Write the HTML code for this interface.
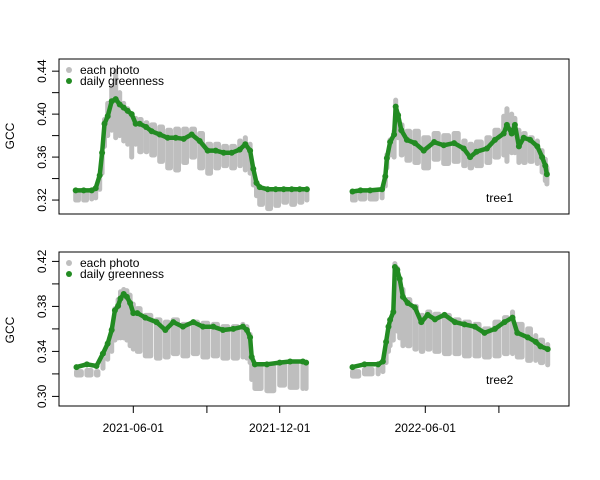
<!DOCTYPE html>
<html><head><meta charset="utf-8"><style>
body{margin:0;background:#fff}
svg{display:block;font-family:"Liberation Sans",sans-serif}
</style></head><body>
<svg id="c" width="600" height="480"></svg>
<script>
const tickDates=["2021-06-01","2021-12-01","2022-06-01"];
const tickDays=[92,275,457];
const minorDays=[184,549];
// tree1 (days since 2021-03-01)
const t1Days=[20,30,40,45,50,53,56,60,65,70,75,80,85,90,95,100,108,115,125,135,145,155,165,175,185,195,205,215,225,232,238,242,246,250,260,270,280,290,300,309,
366,376,388,403,407,409,413,418,420,423,427,434,444,455,468,480,493,505,513,521,534,544,555,559,565,569,574,580,588,597,603,607,609];
const t1Green=[.329,.329,.329,.331,.343,.364,.391,.398,.412,.414,.409,.406,.403,.400,.391,.391,.388,.384,.381,.378,.378,.377,.381,.375,.366,.366,.364,.364,.367,.372,.366,.349,.336,.332,.330,.330,.330,.330,.330,.330,
.328,.329,.329,.330,.342,.359,.374,.381,.407,.399,.385,.376,.373,.366,.374,.371,.373,.368,.360,.365,.368,.376,.382,.390,.382,.390,.370,.378,.376,.370,.360,.352,.344];
const t1GrayHi=[.327,.327,.327,.328,.340,.362,.395,.410,.425,.440,.420,.410,.405,.400,.396,.395,.392,.390,.388,.385,.386,.386,.386,.382,.372,.372,.370,.370,.375,.378,.372,.346,.334,.330,.328,.328,.330,.330,.330,.330,
.326,.327,.328,.328,.340,.362,.376,.384,.413,.400,.390,.384,.384,.378,.382,.380,.382,.375,.372,.374,.378,.385,.398,.405,.400,.396,.385,.382,.378,.375,.366,.358,.350];
const t1GrayLo=[.320,.320,.321,.322,.330,.345,.370,.380,.385,.378,.380,.375,.372,.360,.372,.365,.365,.362,.356,.350,.348,.355,.360,.350,.345,.350,.352,.350,.352,.348,.345,.334,.324,.316,.312,.315,.318,.316,.318,.320,
.320,.321,.321,.322,.333,.350,.362,.360,.388,.378,.362,.357,.355,.350,.358,.354,.356,.352,.350,.352,.355,.360,.362,.356,.364,.364,.355,.355,.356,.354,.346,.338,.335];
// tree2
const t2Days=[21,34,46,54,60,65,69,73,76,80,84,88,92,97,107,121,132,142,154,167,179,192,204,217,229,234,238,240,244,259,275,288,304,308,
366,381,398,404,408,411,413,417,419,422,425,429,435,444,452,460,469,481,494,506,519,531,544,556,566,572,585,595,601,610];
const t2Green=[.326,.3285,.327,.338,.347,.359,.3765,.3805,.387,.391,.3885,.383,.374,.374,.370,.366,.359,.366,.362,.366,.362,.362,.359,.360,.362,.359,.3525,.335,.3285,.3285,.330,.331,.331,.330,
.326,.3285,.3285,.331,.3485,.362,.368,.375,.415,.4125,.4045,.3885,.383,.379,.366,.3725,.3685,.3725,.366,.364,.362,.3565,.360,.366,.370,.3565,.3525,.3485,.3445,.342];
const t2GrayHi=[.322,.323,.322,.334,.345,.360,.378,.386,.393,.395,.394,.390,.382,.378,.372,.368,.366,.368,.364,.366,.365,.364,.362,.362,.364,.362,.355,.332,.326,.326,.328,.328,.330,.328,
.322,.324,.325,.327,.345,.358,.366,.374,.418,.414,.405,.395,.386,.380,.372,.375,.373,.372,.368,.366,.364,.360,.366,.370,.375,.364,.360,.354,.350,.346];
const t2GrayLo=[.319,.319,.319,.325,.333,.340,.350,.352,.352,.352,.350,.345,.342,.340,.336,.334,.335,.338,.336,.338,.335,.336,.334,.334,.335,.334,.330,.315,.307,.305,.310,.308,.307,.307,
.318,.320,.320,.322,.330,.340,.345,.350,.360,.358,.352,.345,.345,.342,.340,.342,.340,.338,.338,.336,.336,.335,.336,.338,.338,.335,.332,.332,.330,.328];

const NS="http://www.w3.org/2000/svg";
const svg=document.getElementById('c');
function mk(tag,attrs,parent){const e=document.createElementNS(NS,tag);for(const k in attrs)e.setAttribute(k,attrs[k]);(parent||svg).appendChild(e);return e;}
const X0=59,X1=569;
function xs(d){return 133.3+(d-92)*0.8;}
function panel(cfg){
  const {top,bot,vmin,vmax,ticks,labels,days,green,hi,lo,name,ymid}=cfg;
  const ys=v=>bot-(v-vmin)/(vmax-vmin)*(bot-top);
  const g=mk('g',{});
  
  
  for(let i=0;i<days.length;i++){
    let w=5;
    if(i<days.length-1&&days[i+1]-days[i]<30)w=Math.max(5,(days[i+1]-days[i])*0.8*0.85+1);
    const r=mk('rect',{x:xs(days[i])-2.5,y:ys(hi[i])-2.5,width:w,height:Math.max(5,ys(lo[i])-ys(hi[i])+5),rx:2.5,fill:'#BEBEBE'},g);
    
    
  }
  let seg=[];const segs=[];
  for(let i=0;i<days.length;i++){
    if(i>0&&days[i]-days[i-1]>30){segs.push(seg);seg=[];}
    seg.push(xs(days[i]).toFixed(1)+','+ys(green[i]).toFixed(1));
  }
  segs.push(seg);
  segs.forEach(s=>{const p=mk('polyline',{points:s.join(' '),fill:'none',stroke:'#228B22','stroke-width':4.5,'stroke-linejoin':'round','stroke-linecap':'round'},g);
    
    });
  for(let i=0;i<days.length;i++){
    const c=mk('circle',{cx:xs(days[i]),cy:ys(green[i]),r:3,fill:'#228B22'},g);
    
    
  }
  const box=mk('rect',{x:X0,y:top-4,width:X1-X0,height:bot-top+10,fill:'none',stroke:'#000','stroke-width':1},g);
  
  
  ticks.forEach((t,i)=>{
    const y=ys(t);
    mk('line',{x1:X0-7,x2:X0,y1:y,y2:y,stroke:'#000'},g);
    if(labels[i]){const tx=mk('text',{x:0,y:0,'font-size':12,'text-anchor':'middle',transform:`translate(46,${y}) rotate(-90)`},g);tx.textContent=labels[i];
      
      }
  });
  const yl=mk('text',{x:0,y:0,'font-size':12,'text-anchor':'middle',transform:`translate(14,${ymid}) rotate(-90)`},g);yl.textContent='GCC';
  
  
  mk('circle',{cx:69,cy:top+7,r:3,fill:'#BEBEBE'},g);
  const l1=mk('text',{x:80,y:top+11,'font-size':12},g);l1.textContent='each photo';
  
  
  mk('circle',{cx:69,cy:top+18,r:3,fill:'#228B22'},g);
  const l2=mk('text',{x:80,y:top+22,'font-size':12},g);l2.textContent='daily greenness';
  
  
  const tn=mk('text',{x:486,y:cfg.labelY,'font-size':12},g);tn.textContent=name;
  
  
}
panel({top:63,bot:208,vmin:0.3126,vmax:0.4476,ticks:[.32,.34,.36,.38,.40,.42,.44],labels:['0.32','','0.36','','0.40','','0.44'],days:t1Days,green:t1Green,hi:t1GrayHi,lo:t1GrayLo,name:'tree1',ymid:136,labelY:202});
panel({top:256,bot:400,vmin:0.2968,vmax:0.4248,ticks:[.30,.32,.34,.36,.38,.40,.42],labels:['0.30','','0.34','','0.38','','0.42'],days:t2Days,green:t2Green,hi:t2GrayHi,lo:t2GrayLo,name:'tree2',ymid:330,labelY:384});
tickDays.concat(minorDays).forEach(d=>mk('line',{x1:xs(d),x2:xs(d),y1:406,y2:413,stroke:'#000'}));
tickDates.forEach((s,i)=>{const t=mk('text',{x:xs(tickDays[i]),y:432,'font-size':12,'text-anchor':'middle'});t.textContent=s;
  
  });
</script>
</body></html>
